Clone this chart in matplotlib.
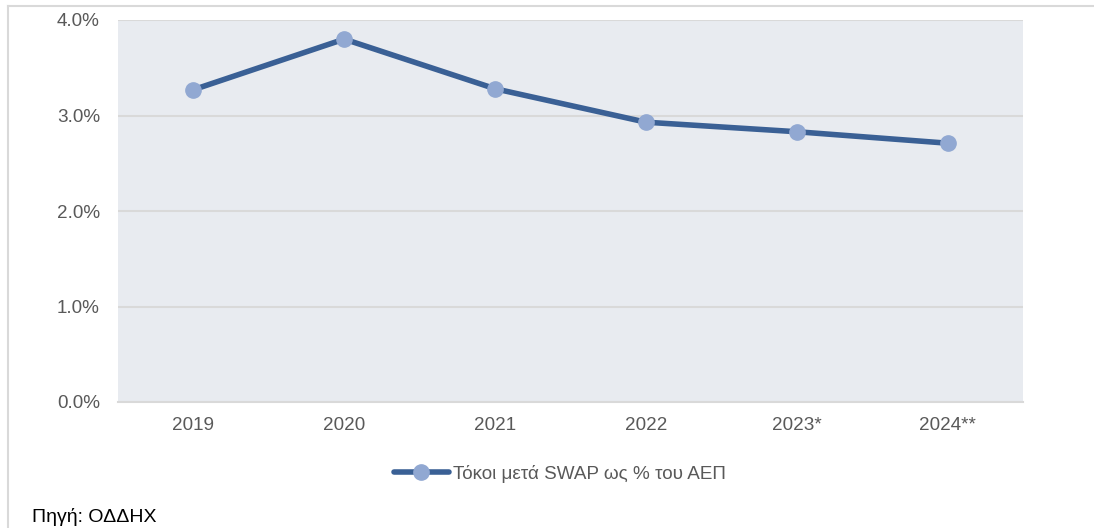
import matplotlib
matplotlib.use("Agg")
import matplotlib.pyplot as plt
from matplotlib.lines import Line2D

plt.rcParams['font.family'] = ['Liberation Sans', 'DejaVu Sans']

categories = ["2019", "2020", "2021", "2022", "2023*", "2024**"]
values = [3.27, 3.80, 3.28, 2.93, 2.83, 2.71]
yticks = [0.0, 1.0, 2.0, 3.0, 4.0]
ytick_labels = ["0.0%", "1.0%", "2.0%", "3.0%", "4.0%"]
series_name = "Τόκοι μετά SWAP ως % του ΑΕΠ"
source_text = "Πηγή: ΟΔΔΗΧ"

W, H = 1094, 528
fig = plt.figure(figsize=(W / 100, H / 100), dpi=100)

# outer frame
fig.add_artist(Line2D([8 / W, 8 / W], [0, 1 - 6 / H], transform=fig.transFigure,
                      color="#D9D9D9", lw=1.5))
fig.add_artist(Line2D([8 / W, 1], [1 - 6 / H, 1 - 6 / H], transform=fig.transFigure,
                      color="#D9D9D9", lw=1.5))

left, right, top, bottom = 118, 1023, 20, 402
ax = fig.add_axes([left / W, 1 - bottom / H, (right - left) / W, (bottom - top) / H])
ax.set_facecolor("#E8EBF0")
x = list(range(len(categories)))
ax.plot(x, values, color="#3A6095", lw=4, marker="o", markersize=11,
        markerfacecolor="#91A8D2", markeredgecolor="#91A8D2", solid_capstyle="round",
        label=series_name, zorder=3)
ax.set_xlim(-0.5, len(categories) - 0.5)
ax.set_ylim(0, 4.0)
ax.set_yticks(yticks)
ax.set_yticklabels(ytick_labels)
ax.set_xticks(x)
ax.set_xticklabels(categories)
ax.grid(axis="y", color="#D9D9D9", lw=1.5, zorder=0)
ax.set_axisbelow(True)
for s in ["top", "right", "left"]:
    ax.spines[s].set_visible(False)
ax.spines["bottom"].set_color("#D9D9D9")
ax.spines["bottom"].set_linewidth(1.5)
ax.tick_params(axis="both", length=0, labelsize=13.6, colors="#595959")
ax.tick_params(axis="x", pad=11)
ax.tick_params(axis="y", pad=13)

handle = Line2D([0], [0], color="#3A6095", lw=4, marker="o", markersize=11,
                markerfacecolor="#91A8D2", markeredgecolor="#91A8D2",
                solid_capstyle="round")
fig.legend([handle], [series_name], loc="center", bbox_to_anchor=(560 / W, 1 - 474 / H),
           frameon=False, fontsize=13.6, labelcolor="#595959", handlelength=2.9,
           handletextpad=0.25, borderpad=0, borderaxespad=0)

fig.text(32 / W, 1 - 526 / H, source_text, fontsize=14, color="#000000",
         ha="left", va="bottom")

fig.savefig("out.png", dpi=100, facecolor="white")
